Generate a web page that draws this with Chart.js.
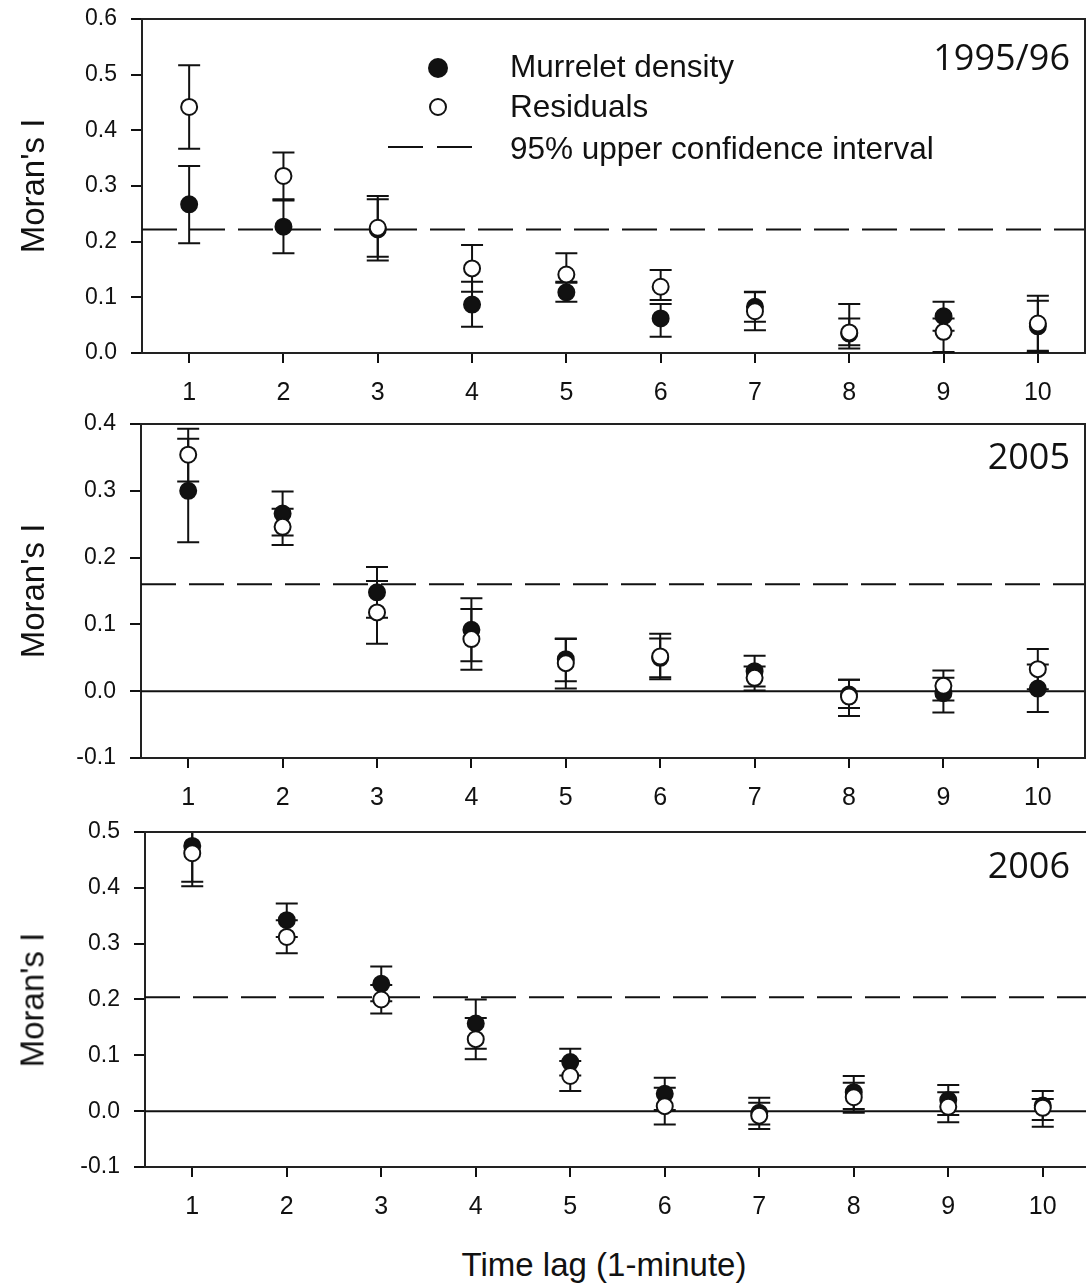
<!DOCTYPE html>
<html>
<head>
<meta charset="utf-8">
<title>Moran's I by time lag</title>
<script src="https://cdn.jsdelivr.net/npm/chart.js@4.4.1/dist/chart.umd.min.js"></script>
<style>
  html, body { margin: 0; padding: 0; background: #fff; overflow: hidden; }
  body { width: 1086px; height: 1285px; position: relative; font-family: "Liberation Sans", Arial, sans-serif; color: #111; }
  .panel { position: absolute; left: 0; }
  .txt { position: absolute; white-space: nowrap; line-height: 1; }
  .ytitle { position: absolute; font-size: 33px; line-height: 1; white-space: nowrap; transform: translate(-50%, -50%) rotate(-90deg); }
  .year { position: absolute; right: 16px; font-family: "Open Sans", "Noto Sans", sans-serif; font-size: 36px; line-height: 1; }
  .leg { font-size: 31.5px; }
  .dot { position: absolute; border-radius: 50%; box-sizing: border-box; }
  .dash { position: absolute; height: 2px; background: #111; }
</style>
</head>
<body>

<div class="panel" style="top:0"><canvas id="c1" width="1086" height="410"></canvas></div>
<div class="panel" style="top:410px"><canvas id="c2" width="1086" height="410"></canvas></div>
<div class="panel" style="top:820px"><canvas id="c3" width="1092" height="410"></canvas></div>

<!-- legend -->
<div class="dot" style="left:428px; top:58px; width:20px; height:20px; background:#111;"></div>
<div class="dot" style="left:429px; top:98px; width:18px; height:18px; border:2px solid #111; background:#fff;"></div>
<div class="dash" style="left:388px; top:146px; width:35px;"></div>
<div class="dash" style="left:437px; top:146px; width:35px;"></div>
<div class="txt leg" style="left:510px; top:51px;">Murrelet density</div>
<div class="txt leg" style="left:510px; top:91px;">Residuals</div>
<div class="txt leg" style="left:510px; top:133px;">95% upper confidence interval</div>

<div class="year" style="top:39px;">1995/96</div>
<div class="year" style="top:438px;">2005</div>
<div class="year" style="top:847px;">2006</div>

<div class="ytitle" style="left:32px; top:186px;">Moran's I</div>
<div class="ytitle" style="left:32px; top:591px;">Moran's I</div>
<div class="ytitle" style="left:32px; top:1000px;">Moran's I</div>

<div class="txt" style="left:604px; top:1248px; font-size:33px; transform:translateX(-50%);">Time lag (1-minute)</div>

<script>
// Moran's I for murrelet density and residuals, by time lag

var lags = [1, 2, 3, 4, 5, 6, 7, 8, 9, 10];

// 1995/96
var density96   = [0.267, 0.227, 0.222, 0.087, 0.109, 0.062, 0.083, 0.035, 0.066, 0.048];
var density96Lo = [0.197, 0.179, 0.166, 0.047, 0.092, 0.029, 0.056, 0.008, 0.040, 0.002];
var density96Hi = [0.336, 0.276, 0.276, 0.128, 0.126, 0.088, 0.110, 0.062, 0.092, 0.094];
var resid96     = [0.442, 0.318, 0.225, 0.152, 0.141, 0.119, 0.075, 0.037, 0.038, 0.053];
var resid96Lo   = [0.367, 0.274, 0.173, 0.110, 0.128, 0.095, 0.041, 0.014, 0.002, 0.004];
var resid96Hi   = [0.517, 0.360, 0.282, 0.194, 0.179, 0.149, 0.109, 0.088, 0.062, 0.103];

// 2005
var density05   = [0.300, 0.266, 0.148, 0.092, 0.048, 0.050, 0.030, -0.005, -0.003, 0.004];
var density05Lo = [0.223, 0.233, 0.110, 0.045, 0.015, 0.021, 0.007, -0.025, -0.032, -0.031];
var density05Hi = [0.378, 0.299, 0.186, 0.139, 0.079, 0.079, 0.053, 0.017, 0.020, 0.040];
var resid05     = [0.354, 0.246, 0.118, 0.078, 0.042, 0.052, 0.020, -0.008, 0.008, 0.033];
var resid05Lo   = [0.314, 0.219, 0.071, 0.032, 0.004, 0.018, 0.001, -0.037, -0.014, 0.003];
var resid05Hi   = [0.393, 0.273, 0.165, 0.123, 0.078, 0.086, 0.037, 0.017, 0.031, 0.063];

// 2006
var density06   = [0.475, 0.342, 0.228, 0.157, 0.088, 0.031, -0.003, 0.034, 0.020, 0.010];
var density06Lo = [0.411, 0.312, 0.197, 0.112, 0.064, 0.002, -0.024, 0.004, -0.007, -0.016];
var density06Hi = [0.539, 0.372, 0.259, 0.200, 0.112, 0.060, 0.015, 0.063, 0.047, 0.036];
var resid06     = [0.462, 0.312, 0.200, 0.129, 0.063, 0.009, -0.008, 0.025, 0.008, 0.006];
var resid06Lo   = [0.403, 0.283, 0.175, 0.093, 0.036, -0.024, -0.032, -0.003, -0.020, -0.028];
var resid06Hi   = [0.521, 0.342, 0.226, 0.167, 0.090, 0.042, 0.024, 0.051, 0.034, 0.022];

// 95% upper confidence interval per panel
var upperCI = [0.222, 0.160, 0.204];

// y tick labels per panel
var yTicks96 = [0.0, 0.1, 0.2, 0.3, 0.4, 0.5, 0.6];
var yTicks05 = [-0.1, 0.0, 0.1, 0.2, 0.3, 0.4];
var yTicks06 = [-0.1, 0.0, 0.1, 0.2, 0.3, 0.4, 0.5];

var INK = '#111';
var FONT = '"Liberation Sans", Arial, sans-serif';

function toPoints(ys) {
    return lags.map(function(x, i) { return { x: x, y: ys[i] }; });
}

function makePanel(canvasId, opts) {
    var ctx = document.getElementById(canvasId).getContext('2d');

    // error bars drawn under the markers
    var errorBars = {
        id: 'errorBars',
        beforeDatasetsDraw: function(chart) {
            var c = chart.ctx, area = chart.chartArea;
            var xs = chart.scales.x, ys = chart.scales.y;
            c.save();
            c.beginPath();
            c.rect(area.left, area.top, area.right - area.left, area.bottom - area.top);
            c.clip();
            c.strokeStyle = INK;
            c.lineWidth = 2;
            opts.bars.forEach(function(b) {
                b.lo.forEach(function(lo, i) {
                    var px = xs.getPixelForValue(lags[i]);
                    var pLo = ys.getPixelForValue(lo);
                    var pHi = ys.getPixelForValue(b.hi[i]);
                    c.beginPath();
                    c.moveTo(px, pLo); c.lineTo(px, pHi);
                    c.moveTo(px - 11, pLo); c.lineTo(px + 11, pLo);
                    c.moveTo(px - 11, pHi); c.lineTo(px + 11, pHi);
                    c.stroke();
                });
            });
            c.restore();
        }
    };

    // top and right edges of the frame
    var frame = {
        id: 'frame',
        afterDraw: function(chart) {
            var c = chart.ctx, a = chart.chartArea;
            c.save();
            c.strokeStyle = '#222';
            c.lineWidth = 2;
            c.beginPath();
            c.moveTo(a.left, a.top); c.lineTo(a.right, a.top); c.lineTo(a.right, a.bottom);
            c.stroke();
            c.restore();
        }
    };

    var datasets = [{
        label: 'Residuals',
        data: toPoints(opts.resid),
        showLine: false,
        pointRadius: 8,
        pointBorderWidth: 2,
        pointBackgroundColor: '#fff',
        pointBorderColor: INK,
        order: 1
    }, {
        label: 'Murrelet density',
        data: toPoints(opts.density),
        showLine: false,
        pointRadius: 8,
        pointBorderWidth: 2,
        pointBackgroundColor: INK,
        pointBorderColor: INK,
        order: 2
    }, {
        label: '95% upper confidence interval',
        data: [{ x: 0.5, y: opts.ci }, { x: 10.5, y: opts.ci }],
        showLine: true,
        borderColor: INK,
        borderWidth: 2,
        borderDash: [35, 13],
        pointRadius: 0,
        order: 3
    }];

    if (opts.zeroLine) {
        datasets.push({
            label: 'zero',
            data: [{ x: 0.5, y: 0 }, { x: 10.5, y: 0 }],
            showLine: true,
            borderColor: INK,
            borderWidth: 2,
            pointRadius: 0,
            order: 4
        });
    }

    return new Chart(ctx, {
        type: 'scatter',
        data: { datasets: datasets },
        plugins: [errorBars, frame],
        options: {
            responsive: false,
            animation: false,
            devicePixelRatio: 1,
            layout: {
                autoPadding: false,
                padding: { top: opts.padTop, right: opts.padRight, left: 0, bottom: 0 }
            },
            plugins: { legend: { display: false }, tooltip: { enabled: false } },
            scales: {
                x: {
                    type: 'linear',
                    min: 0.5,
                    max: 10.5,
                    afterBuildTicks: function(axis) {
                        axis.ticks = lags.map(function(v) { return { value: v }; });
                    },
                    afterFit: function(axis) {
                        axis.height = opts.xHeight;
                        axis.paddingLeft = 0;
                        axis.paddingRight = 0;
                    },
                    grid: { display: true, drawOnChartArea: false, drawTicks: true, tickLength: 10, color: INK, lineWidth: 2 },
                    border: { display: true, color: '#222', width: 2 },
                    ticks: {
                        color: INK,
                        padding: 15,
                        maxRotation: 0,
                        autoSkip: false,
                        font: { family: FONT, size: 25 },
                        callback: function(v) { return String(v); }
                    }
                },
                y: {
                    min: opts.yMin,
                    max: opts.yMax,
                    afterBuildTicks: function(axis) {
                        axis.ticks = opts.yTicks.map(function(v) { return { value: v }; });
                    },
                    afterFit: function(axis) {
                        axis.width = opts.yWidth;
                        axis.paddingTop = 0;
                        axis.paddingBottom = 0;
                    },
                    grid: { display: true, drawOnChartArea: false, drawTicks: true, tickLength: 11, color: INK, lineWidth: 2 },
                    border: { display: true, color: '#222', width: 2 },
                    ticks: {
                        color: INK,
                        padding: 14,
                        autoSkip: false,
                        font: { family: FONT, size: 23 },
                        callback: function(v) { return Number(v).toFixed(1); }
                    }
                }
            }
        }
    });
}

document.addEventListener('DOMContentLoaded', function() {
    makePanel('c1', {
        density: density96, resid: resid96, ci: upperCI[0],
        bars: [{ lo: density96Lo, hi: density96Hi }, { lo: resid96Lo, hi: resid96Hi }],
        yMin: 0, yMax: 0.6, yTicks: yTicks96, zeroLine: false,
        padTop: 19, padRight: 1, yWidth: 142, xHeight: 57
    });
    makePanel('c2', {
        density: density05, resid: resid05, ci: upperCI[1],
        bars: [{ lo: density05Lo, hi: density05Hi }, { lo: resid05Lo, hi: resid05Hi }],
        yMin: -0.1, yMax: 0.4, yTicks: yTicks05, zeroLine: true,
        padTop: 14, padRight: 1, yWidth: 141, xHeight: 62
    });
    makePanel('c3', {
        density: density06, resid: resid06, ci: upperCI[2],
        bars: [{ lo: density06Lo, hi: density06Hi }, { lo: resid06Lo, hi: resid06Hi }],
        yMin: -0.1, yMax: 0.5, yTicks: yTicks06, zeroLine: true,
        padTop: 12, padRight: 2, yWidth: 145, xHeight: 63
    });
});
</script>
</body>
</html>
